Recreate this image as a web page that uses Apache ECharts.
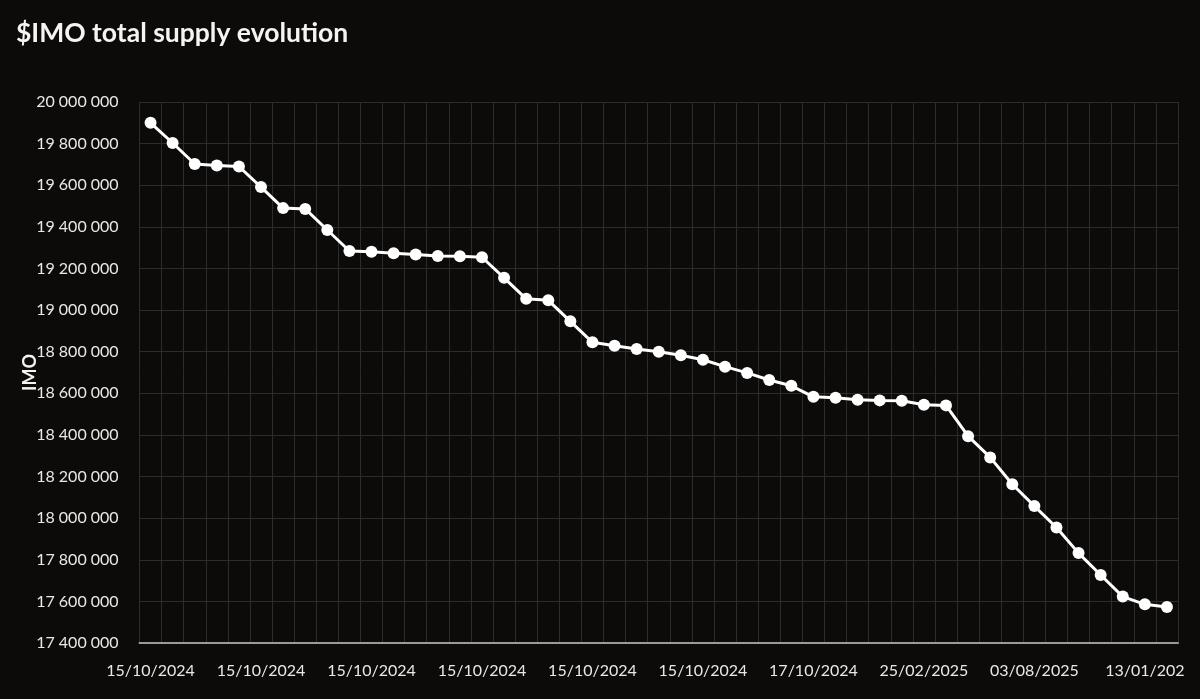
<!DOCTYPE html>
<html>
<head>
<meta charset="utf-8">
<script src="https://cdn.jsdelivr.net/npm/echarts@6/dist/echarts.min.js"></script>
<style>
html,body{margin:0;padding:0;background:#0c0b0a;}
#chart{width:1200px;height:699px;}
</style>
</head>
<body>
<div id="chart"></div>
<script>
const titleText = '$IMO total supply evolution';
const yAxisName = 'IMO';
// labels shown every 5th point
const tickLabels = ['15/10/2024','15/10/2024','15/10/2024','15/10/2024','15/10/2024','15/10/2024','17/10/2024','25/02/2025','03/08/2025','13/01/202'];
const supply = [
  19900000, 19803000, 19702000, 19695000, 19690000,
  19591000, 19490000, 19486000, 19385000, 19284000,
  19280000, 19273000, 19267000, 19260000, 19259000,
  19254000, 19155000, 19054000, 19047000, 18946000,
  18845000, 18829000, 18813000, 18800000, 18783000,
  18761000, 18728000, 18698000, 18664000, 18636000,
  18583000, 18579000, 18569000, 18566000, 18564000,
  18545000, 18542000, 18394000, 18292000, 18163000,
  18058000, 17955000, 17832000, 17727000, 17623000,
  17586000, 17573000
];
const yMin = 17400000, yMax = 20000000, yStep = 200000;

const categories = supply.map((v, i) => (i % 5 === 0 ? tickLabels[i / 5] : ''));

function fmt(v) {
  return String(v).replace(/\B(?=(\d{3})+(?!\d))/g, '\u2005');
}

const chart = echarts.init(document.getElementById('chart'));
chart.setOption({
  backgroundColor: '#0c0b0a',
  animation: false,
  title: {
    text: titleText,
    left: 11,
    top: 15,
    textStyle: { color: '#f4f4f4', fontFamily: 'Lato', fontWeight: 'bold', fontSize: 26.5 }
  },
  grid: { left: 139.5, right: 22, top: 102, bottom: 56, containLabel: false },
  xAxis: {
    type: 'category',
    data: categories,
    boundaryGap: true,
    axisLine: { show: true, lineStyle: { color: '#9a9a9a', width: 2 } },
    axisTick: { show: false },
    axisLabel: {
      interval: 4,
      color: '#e8e8e8',
      fontFamily: 'Lato',
      fontSize: 16,
      margin: 20
    },
    splitLine: { show: true, interval: 0, lineStyle: { color: '#2c2c2c', width: 1 } }
  },
  yAxis: {
    type: 'value',
    min: yMin,
    max: yMax,
    interval: yStep,
    name: yAxisName,
    nameLocation: 'middle',
    nameGap: 100,
    nameMoveOverlap: false,
    nameTextStyle: { color: '#f4f4f4', fontFamily: 'Lato', fontWeight: 'bold', fontSize: 18 },
    axisLine: { show: false },
    axisTick: { show: false },
    axisLabel: {
      color: '#e8e8e8',
      fontFamily: 'Lato',
      fontSize: 16,
      margin: 21,
      formatter: fmt
    },
    splitLine: { show: true, lineStyle: { color: '#2c2c2c', width: 1 } }
  },
  series: [{
    type: 'line',
    data: supply,
    symbol: 'circle',
    symbolSize: 12,
    lineStyle: { color: '#ffffff', width: 3 },
    itemStyle: { color: '#ffffff' }
  }]
});
</script>
</body>
</html>
